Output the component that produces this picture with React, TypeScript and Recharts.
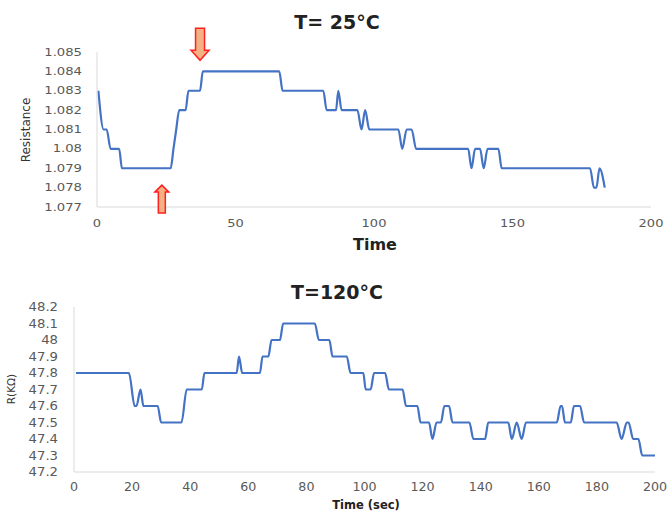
import React from 'react';
import { LineChart, Line, XAxis, YAxis, ReferenceDot } from 'recharts';

// T = 25°C run
const time25 = [
  0.5, 2.4, 3.5, 4.9, 8.0, 9.0, 26.6, 27.6, 28.6, 29.7, 32.0, 33.0, 37.2, 38.2,
  65.8, 67.0, 81.7, 82.9, 86.3, 87.1, 88.3, 94.0, 95.5, 96.8, 98.3, 108.8, 110.2,
  111.8, 113.6, 115.2, 134.0, 135.2, 136.5, 138.3, 139.6, 141.0, 144.9, 146.1,
  178.0, 179.4, 180.3, 181.4, 183.3,
];
const resistance25 = [
  1.083, 1.081, 1.081, 1.08, 1.08, 1.079, 1.079, 1.08, 1.081, 1.082, 1.082, 1.083, 1.083, 1.084,
  1.084, 1.083, 1.083, 1.082, 1.082, 1.083, 1.082, 1.082, 1.081, 1.082, 1.081, 1.081, 1.08,
  1.081, 1.081, 1.08, 1.08, 1.079, 1.08, 1.08, 1.079, 1.08, 1.08, 1.079,
  1.079, 1.078, 1.078, 1.079, 1.078,
];
const xTicks25 = [0, 50, 100, 150, 200];
const yTicks25 = [1.077, 1.078, 1.079, 1.08, 1.081, 1.082, 1.083, 1.084, 1.085];

// T = 120°C run
const time120 = [
  0.7, 18.9, 20.9, 21.5, 22.9, 23.9, 28.8, 30.0, 37.0, 38.8, 44.0, 44.9, 56.0, 56.8,
  57.9, 64.0, 64.9, 66.9, 68.0, 70.9, 72.0, 82.9, 84.3, 87.9, 89.0, 93.9, 95.2, 99.6,
  100.4, 102.1, 103.3, 107.1, 108.4, 113.1, 114.3, 118.2, 119.3, 122.2, 123.4, 124.8,
  126.3, 127.5, 129.1, 130.3, 136.1, 137.5, 141.5, 142.6, 149.5, 150.7, 152.4, 154.1,
  155.6, 166.2, 167.5, 168.0, 169.0, 171.0, 172.1, 174.2, 175.6, 186.8, 188.5, 190.3,
  190.9, 192.5, 194.3, 195.6, 200,
];
const resistance120 = [
  47.8, 47.8, 47.6, 47.6, 47.7, 47.6, 47.6, 47.5, 47.5, 47.7, 47.7, 47.8, 47.8, 47.9,
  47.8, 47.8, 47.9, 47.9, 48.0, 48.0, 48.1, 48.1, 48.0, 48.0, 47.9, 47.9, 47.8, 47.8,
  47.7, 47.7, 47.8, 47.8, 47.7, 47.7, 47.6, 47.6, 47.5, 47.5, 47.4, 47.5,
  47.5, 47.6, 47.6, 47.5, 47.5, 47.4, 47.4, 47.5, 47.5, 47.4, 47.5, 47.4,
  47.5, 47.5, 47.6, 47.6, 47.5, 47.5, 47.6, 47.6, 47.5, 47.5, 47.4, 47.5,
  47.5, 47.4, 47.4, 47.3, 47.3,
];
const xTicks120 = [0, 20, 40, 60, 80, 100, 120, 140, 160, 180, 200];
const yTicks120 = [47.2, 47.3, 47.4, 47.5, 47.6, 47.7, 47.8, 47.9, 48.0, 48.1, 48.2];

const data25 = time25.map((t, i) => ({ t, r: resistance25[i] }));
const data120 = time120.map((t, i) => ({ t, r: resistance120[i] }));

const FONT = '"DejaVu Sans", "Liberation Sans", sans-serif';
const BLUE = '#4472C4';
const AXIS = '#D9D9D9';

// the source picture is stretched sideways, so ticks are widened a bit
const makeTick = (size: number, sx: number, fmt: (v: number) => string, vertical: boolean) => (props: any) => {
  const { x, y, payload, textAnchor } = props;
  return (
    <g transform={`translate(${x},${y}) scale(${sx},1)`}>
      <text
        x={0}
        y={0}
        dy={vertical ? '0.36em' : '0.72em'}
        textAnchor={textAnchor}
        fontSize={size}
        fontFamily={FONT}
        fill="#595959"
      >
        {fmt(payload.value)}
      </text>
    </g>
  );
};

const fmtInt = (v: number) => String(v);
const fmt3 = (v: number) => String(parseFloat(v.toFixed(3)));
const fmt1 = (v: number) => String(parseFloat(v.toFixed(1)));

const DownArrow = (props: any) => {
  const { cx, cy } = props;
  const p = `M${cx - 4.5},${cy - 32} L${cx + 4.5},${cy - 32} L${cx + 4.5},${cy - 10} L${cx + 9},${cy - 10} L${cx},${cy} L${cx - 9},${cy - 10} L${cx - 4.5},${cy - 10} Z`;
  return <path d={p} fill="#F4B183" stroke="#FF2020" strokeWidth={1.5} />;
};

const UpArrow = (props: any) => {
  const { cx, cy } = props;
  const p = `M${cx - 3.5},${cy + 28} L${cx + 3.5},${cy + 28} L${cx + 3.5},${cy + 7} L${cx + 7},${cy + 7} L${cx},${cy} L${cx - 7},${cy + 7} L${cx - 3.5},${cy + 7} Z`;
  return <path d={p} fill="#F4B183" stroke="#FF2020" strokeWidth={1.5} />;
};

const label = (text: string, x: number, y: number, size: number, bold: boolean, rotate = false) => (
  <div
    style={{
      position: 'absolute',
      left: x,
      top: y,
      transform: `translate(-50%, -50%)${rotate ? ' rotate(-90deg)' : ''}`,
      fontFamily: FONT,
      fontSize: size,
      fontWeight: bold ? 'bold' : 'normal',
      color: bold ? '#222' : '#333',
      whiteSpace: 'nowrap',
      lineHeight: 1,
    }}
  >
    {text}
  </div>
);

export default function App() {
  return (
    <div style={{ position: 'absolute', left: 0, top: 0, width: 667, height: 512, background: '#fff' }}>
      <div style={{ position: 'absolute', left: 0, top: 0 }}>
        <LineChart width={667} height={250} data={data25} margin={{ top: 52, right: 16, bottom: 23, left: 40 }}>
          <XAxis
            dataKey="t"
            type="number"
            domain={[0, 200]}
            ticks={xTicks25}
            interval={0}
            stroke={AXIS}
            tickLine={false}
            tick={makeTick(10, 1.3, fmtInt, false)}
            tickSize={6}
            tickMargin={7}
            height={20}
          />
          <YAxis
            type="number"
            domain={[1.077, 1.085]}
            ticks={yTicks25}
            interval={0}
            stroke={AXIS}
            tickLine={false}
            tick={makeTick(10, 1.32, fmt3, true)}
            tickSize={6}
            tickMargin={9}
            width={57}
            allowDataOverflow
          />
          <Line type="monotone" dataKey="r" stroke={BLUE} strokeWidth={2.2} dot={false} isAnimationActive={false} />
          <ReferenceDot x={37.2} y={1.08457} r={0} ifOverflow="visible" shape={DownArrow} />
          <ReferenceDot x={23.4} y={1.07813} r={0} ifOverflow="visible" shape={UpArrow} />
        </LineChart>
      </div>
      <div style={{ position: 'absolute', left: 0, top: 260 }}>
        <LineChart width={667} height={252} data={data120} margin={{ top: 47, right: 12, bottom: 20, left: 30 }}>
          <XAxis
            dataKey="t"
            type="number"
            domain={[0, 200]}
            ticks={xTicks120}
            interval={0}
            stroke={AXIS}
            tickLine={false}
            tick={makeTick(11.5, 1.1, fmtInt, false)}
            tickSize={6}
            tickMargin={5}
            height={20}
          />
          <YAxis
            type="number"
            domain={[47.2, 48.2]}
            ticks={yTicks120}
            interval={0}
            stroke={AXIS}
            tickLine={false}
            tick={makeTick(11.5, 1.15, fmt1, true)}
            tickSize={6}
            tickMargin={10}
            width={44}
            allowDataOverflow
          />
          <Line type="monotone" dataKey="r" stroke={BLUE} strokeWidth={2.2} dot={false} isAnimationActive={false} />
        </LineChart>
      </div>
      {label('T= 25°C', 337, 22, 19, true)}
      {label('Time', 375, 245, 16, true)}
      {label('Resistance', 26, 130, 12, false, true)}
      {label('T=120°C', 337, 292, 19, true)}
      {label('Time (sec)', 366, 506, 11.5, true)}
      {label('R(KΩ)', 11, 389, 10.5, false, true)}
    </div>
  );
}
